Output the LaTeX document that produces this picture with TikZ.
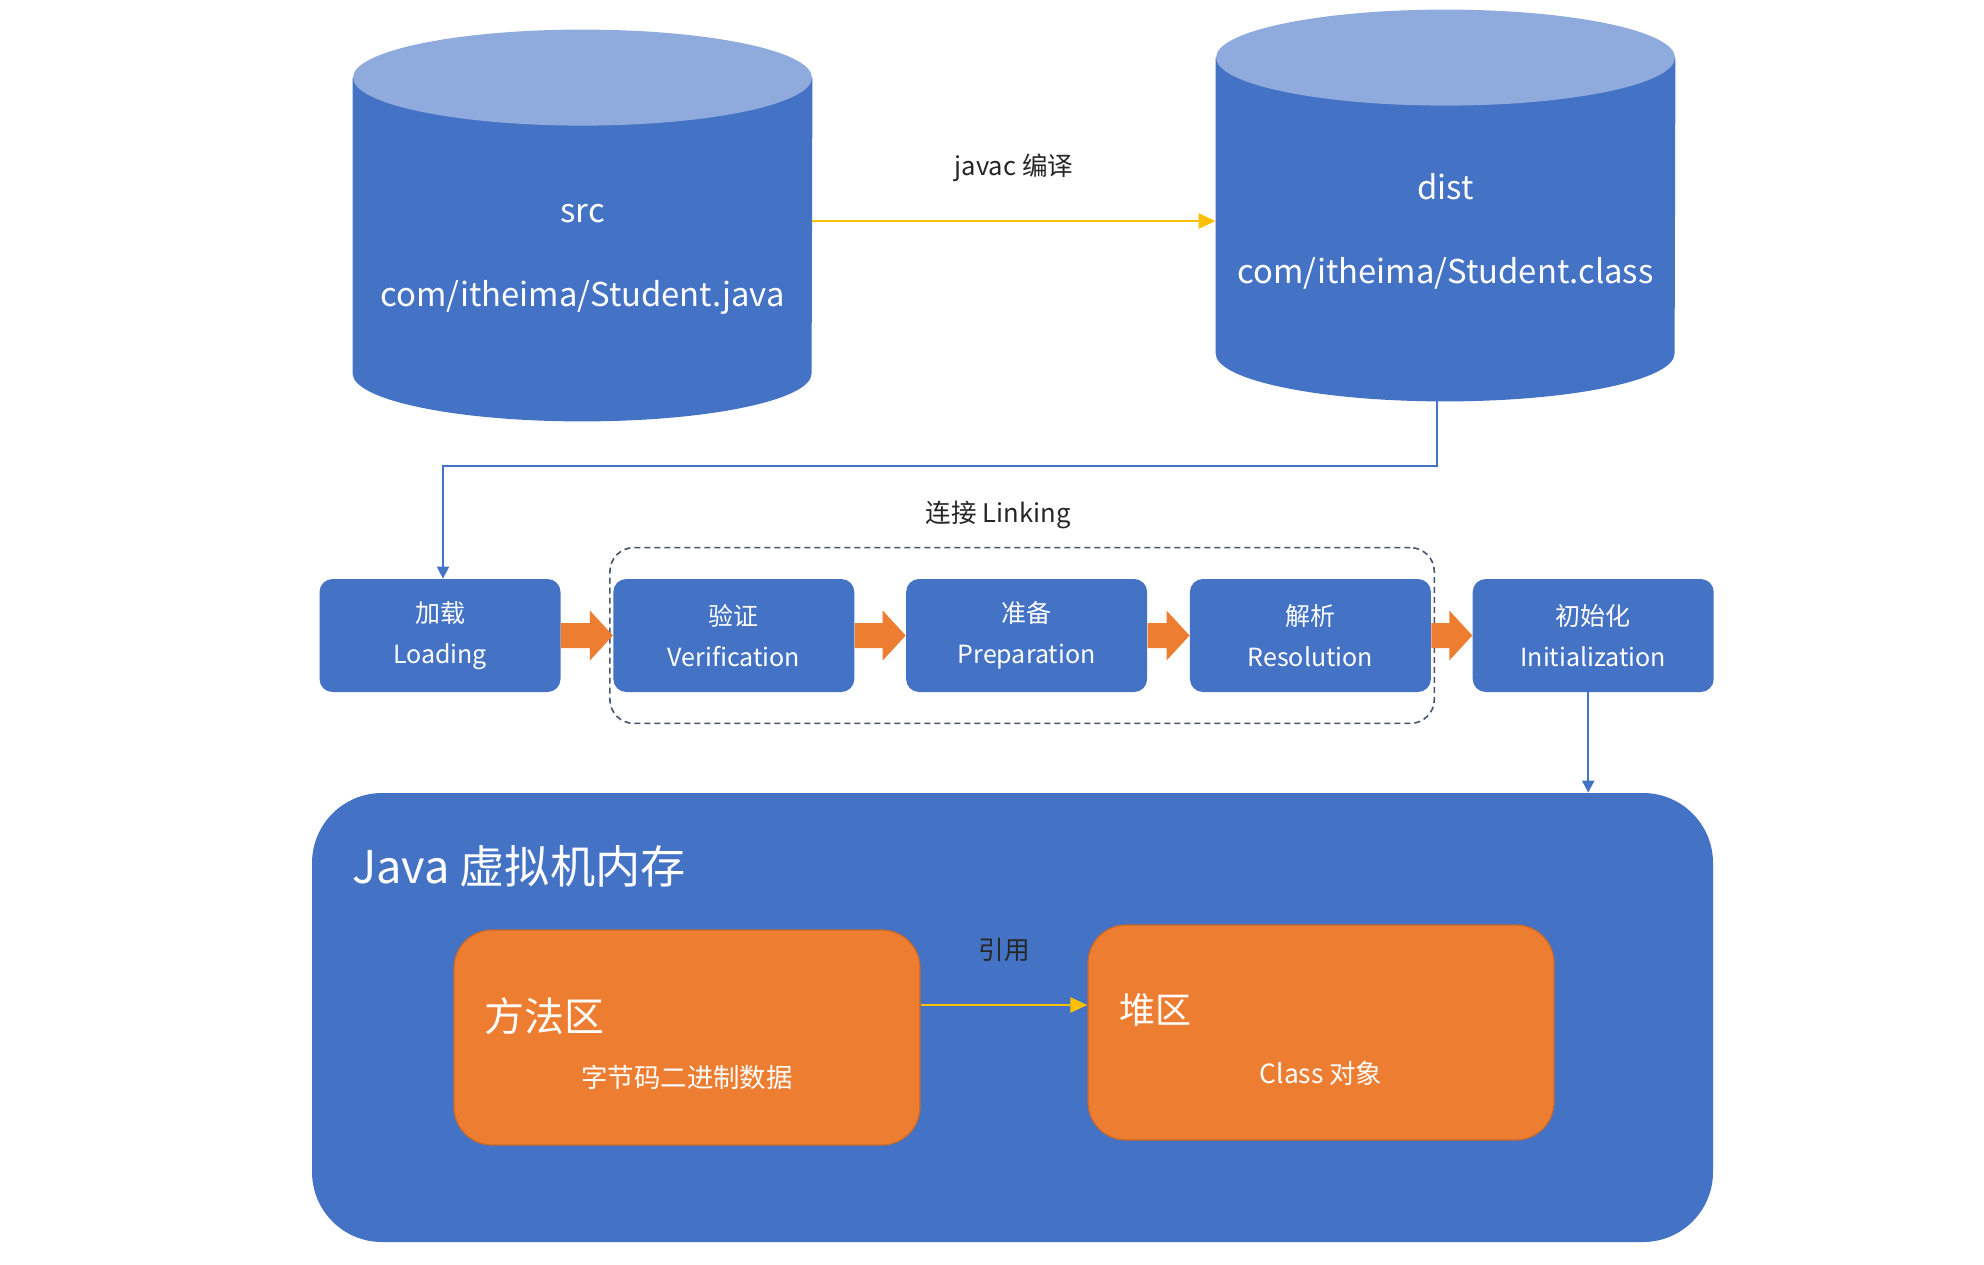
\documentclass[tikz,border=0pt]{standalone}
\usepackage{fontspec}
\setmainfont{Noto Sans CJK SC}
\usetikzlibrary{positioning,fit,arrows.meta}
\definecolor{jblue}{HTML}{4472C4}
\definecolor{jtop}{HTML}{8FAADC}
\definecolor{jorange}{HTML}{ED7D31}
\definecolor{jyellow}{HTML}{FFC000}
\definecolor{jslate}{HTML}{44546A}
\definecolor{jtext}{HTML}{262626}
\begin{document}
\begin{tikzpicture}[x=0.5pt,y=0.5pt,
  cylbox/.style={minimum width=229.5pt,minimum height=195.5pt,inner sep=0pt},
  cyltext/.style={text=white,font=\fontsize{16.4}{42}\selectfont,align=center,inner sep=0pt},
  stage/.style={fill=jblue,rounded corners=6.5pt,minimum width=120.5pt,minimum height=56.5pt,
    text=white,align=center,font=\fontsize{12.5}{20.5}\selectfont,inner sep=0pt},
  linkbox/.style={draw=jslate,line width=0.8pt,dash pattern=on 3pt off 2pt,rounded corners=12pt,
    inner xsep=1.5pt,inner ysep=15.5pt},
  note/.style={text=jtext,font=\fontsize{12.8}{16}\selectfont,inner sep=0pt},
  memory/.style={fill=jblue,rounded corners=35pt,minimum width=700.5pt,minimum height=224.5pt},
  area/.style={fill=jorange,draw=jorange!85!black,line width=0.6pt,rounded corners=19pt,
    minimum width=233pt,minimum height=107.5pt},
  areatitle/.style={text=white,font=\fontsize{20}{24}\selectfont,inner sep=0pt},
  areanote/.style={text=white,font=\fontsize{13.2}{16}\selectfont,inner sep=0pt},
  yarrow/.style={draw=jyellow,line width=1.2pt,-{Triangle[length=8.5pt,width=7.5pt]}},
  barrow/.style={draw=jblue,line width=1pt,-{Triangle[length=6pt,width=6pt]}}]
\fill[white] (0,0) rectangle (1984,-1264);
\useasboundingbox (0,0) rectangle (1984,-1264);

% source and class files
\node[cylbox] (src) at (582.5,-225.5) {};
\node[cylbox] (dist) at (1445.5,-205.5) {};
\foreach \c in {src,dist}{
  \fill[jblue] ([yshift=-24pt]\c.north west) -- ([yshift=24pt]\c.south west)
    arc[start angle=180,end angle=360,x radius=114.75pt,y radius=24pt] -- ([yshift=-24pt]\c.north east) -- cycle;
  \fill[jtop] ([yshift=-24pt]\c.north) ellipse[x radius=114.75pt,y radius=24pt];
}
\node[cyltext] at ([yshift=-16.75pt]src.center) {src\\com/itheima/Student.java};
\node[cyltext] at ([yshift=-12.75pt]dist.center) {dist\\com/itheima/Student.class};
\draw[yarrow] ([yshift=2.25pt]src.east) -- ([yshift=2.25pt]src.east -| dist.west) node[midway,above=19pt,note] {javac 编译};

% class loading stages
\node[stage] (load) at (440,-635.5) {加载\\Loading};
\node[stage,right=26pt of load] (verify) {验证\\Verification};
\node[stage,right=25.5pt of verify] (prep) {准备\\Preparation};
\node[stage,right=21pt of prep] (resolve) {解析\\Resolution};
\node[stage,right=20.5pt of resolve] (init) {初始化\\Initialization};
\node[linkbox,fit=(verify)(resolve)] (linking) {};
\node[note,above=9pt of linking,xshift=-12pt] (linklabel) {连接 Linking};
\foreach \a/\b in {load/verify,verify/prep,prep/resolve,resolve/init}
  \fill[jorange] ([yshift=6.25pt]\a.east) -- ([xshift=-11.5pt,yshift=6.25pt]\b.west)
    -- ([xshift=-11.5pt,yshift=12.5pt]\b.west) -- (\b.west) -- ([xshift=-11.5pt,yshift=-12.5pt]\b.west)
    -- ([xshift=-11.5pt,yshift=-6.25pt]\b.west) -- ([yshift=-6.25pt]\a.east) -- cycle;
\draw[barrow] ([xshift=-4.25pt]dist.south) -- ++(0,-65) -| ([xshift=1.5pt]load.north);

% jvm memory
\node[memory] (jvm) at (1012.5,-1017.5) {};
\draw[barrow] ([xshift=-2.5pt]init.south) -- ([xshift=-2.5pt]init.south |- jvm.north);
\node[areatitle,anchor=west,font=\fontsize{22.6}{28}\selectfont] (jvmtitle) at ([xshift=20pt,yshift=-37pt]jvm.north west) {Java 虚拟机内存};
\node[area] (method) at (687,-1037.5) {};
\node[area] (heap) at (1321,-1032.5) {};
\node[areatitle,anchor=west] at ([xshift=15.5pt,yshift=10.75pt]method.west) {方法区};
\node[areatitle,anchor=west,font=\fontsize{18}{22}\selectfont] at ([xshift=16pt,yshift=11.25pt]heap.west) {堆区};
\node[areanote] at ([yshift=-19.75pt]method.center) {字节码二进制数据};
\node[areanote] at ([yshift=-20.25pt]heap.center) {Class 对象};
\draw[yarrow] ([yshift=16.25pt]method.east) -- ([yshift=16.25pt]method.east -| heap.west) node[midway,above=21pt,note] {引用};
\end{tikzpicture}
\end{document}
